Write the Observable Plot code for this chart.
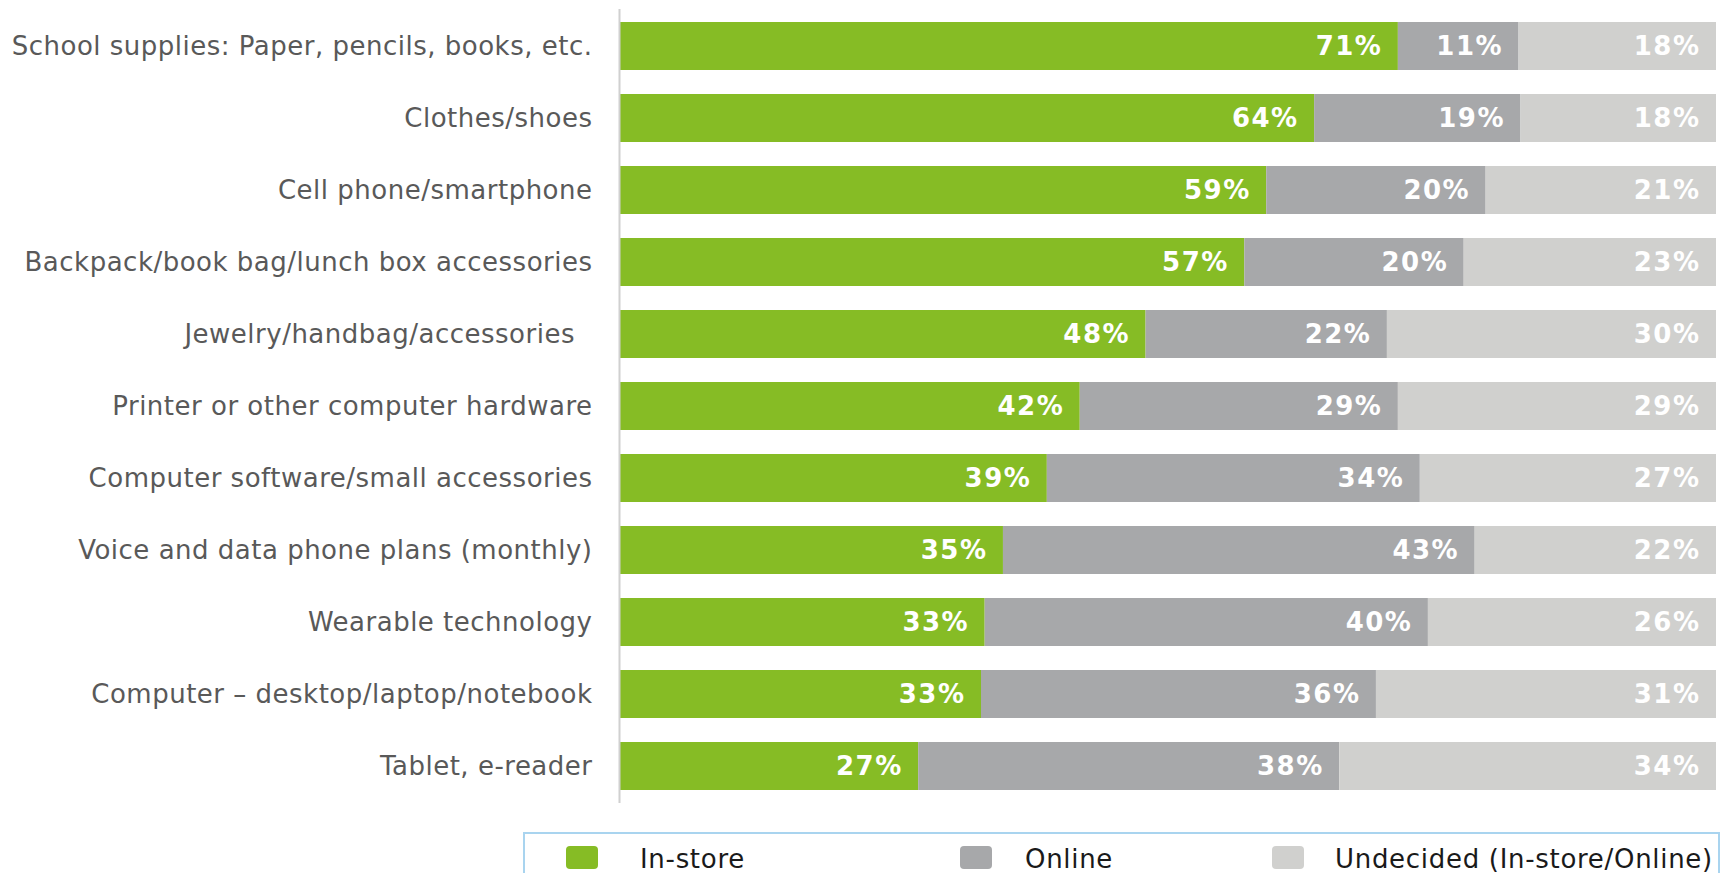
<!DOCTYPE html>
<html>
<head>
<meta charset="utf-8">
<script src="https://cdn.jsdelivr.net/npm/d3@7"></script>
<script src="https://cdn.jsdelivr.net/npm/@observablehq/plot@0.6"></script>
<style>
  html, body { margin: 0; padding: 0; background: #fff; }
  #wrap { position: relative; width: 1724px; height: 873px; overflow: hidden; font-family: "DejaVu Sans", Verdana, sans-serif; }
  #legend { position: absolute; left: 523px; top: 832px; width: 1197px; height: 80px; border: 2px solid #a9d4ef; box-sizing: border-box; }
  .sw { position: absolute; top: 12px; width: 32px; height: 23px; border-radius: 4px; }
  .lt { position: absolute; top: 9px; font-size: 26px; color: #1a1a1a; line-height: 32px; white-space: nowrap; letter-spacing: 0.7px; }
  #chart g[aria-label="y-axis tick label"] text { letter-spacing: 0.5px; }
  #chart g[aria-label="text"] text { letter-spacing: 1.5px; }
</style>
</head>
<body>
<div id="wrap">
  <div id="chart"></div>
  <div id="legend"></div>
</div>
<script>
const categories = [
  "School supplies: Paper, pencils, books, etc.",
  "Clothes/shoes",
  "Cell phone/smartphone",
  "Backpack/book bag/lunch box accessories",
  "Jewelry/handbag/accessories\u00a0\u00a0",
  "Printer or other computer hardware",
  "Computer software/small accessories",
  "Voice and data phone plans (monthly)",
  "Wearable technology",
  "Computer \u2013 desktop/laptop/notebook",
  "Tablet, e-reader"
];
const inStore   = [71, 64, 59, 57, 48, 42, 39, 35, 33, 33, 27];
const online    = [11, 19, 20, 20, 22, 29, 34, 43, 40, 36, 38];
const undecided = [18, 18, 21, 23, 30, 29, 27, 22, 26, 31, 34];
const seriesNames = ["In-store", "Online", "Undecided (In-store/Online)"];
const seriesColors = ["#86BC25", "#A7A8AA", "#D0D0CE"];

const seriesValues = [inStore, online, undecided];
const data = categories.flatMap((c, i) =>
  seriesNames.map((s, j) => ({category: c, series: s, value: seriesValues[j][i]}))
);

const chart = Plot.plot({
  width: 1724,
  height: 820,
  marginLeft: 619,
  marginRight: 8,
  marginTop: 9,
  marginBottom: 17,
  style: {fontFamily: "DejaVu Sans, Verdana, sans-serif", fontSize: "26px", color: "#595959", background: "#fff"},
  x: {axis: null},
  y: {domain: categories, paddingInner: 0.335, paddingOuter: 0.1675, label: null},
  color: {domain: seriesNames, range: seriesColors},
  marks: [
    Plot.barX(data, Plot.stackX({x: "value", y: "category", fill: "series", order: seriesNames, offset: "normalize"})),
    Plot.text(data, Plot.stackX2({
      x: "value", y: "category", z: "series", order: seriesNames, offset: "normalize",
      text: d => d.value + "%",
      textAnchor: "end", dx: -16, fill: "#ffffff",
      fontSize: 26, fontWeight: "bold"
    })),
    Plot.ruleX([0], {stroke: "#d0d0d0", strokeWidth: 2}),
    Plot.axisY({tickSize: 0, tickPadding: 27, fontSize: 26, label: null, fill: "#595959"})
  ]
});
document.getElementById("chart").appendChild(chart);

const legend = document.getElementById("legend");
const swX = [41, 435, 747];
const txX = [115, 500, 810];
seriesNames.forEach((s, i) => {
  const sw = document.createElement("div");
  sw.className = "sw";
  sw.style.left = swX[i] + "px";
  sw.style.background = seriesColors[i];
  legend.appendChild(sw);
  const t = document.createElement("div");
  t.className = "lt";
  t.style.left = txX[i] + "px";
  t.textContent = s;
  legend.appendChild(t);
});
</script>
</body>
</html>
